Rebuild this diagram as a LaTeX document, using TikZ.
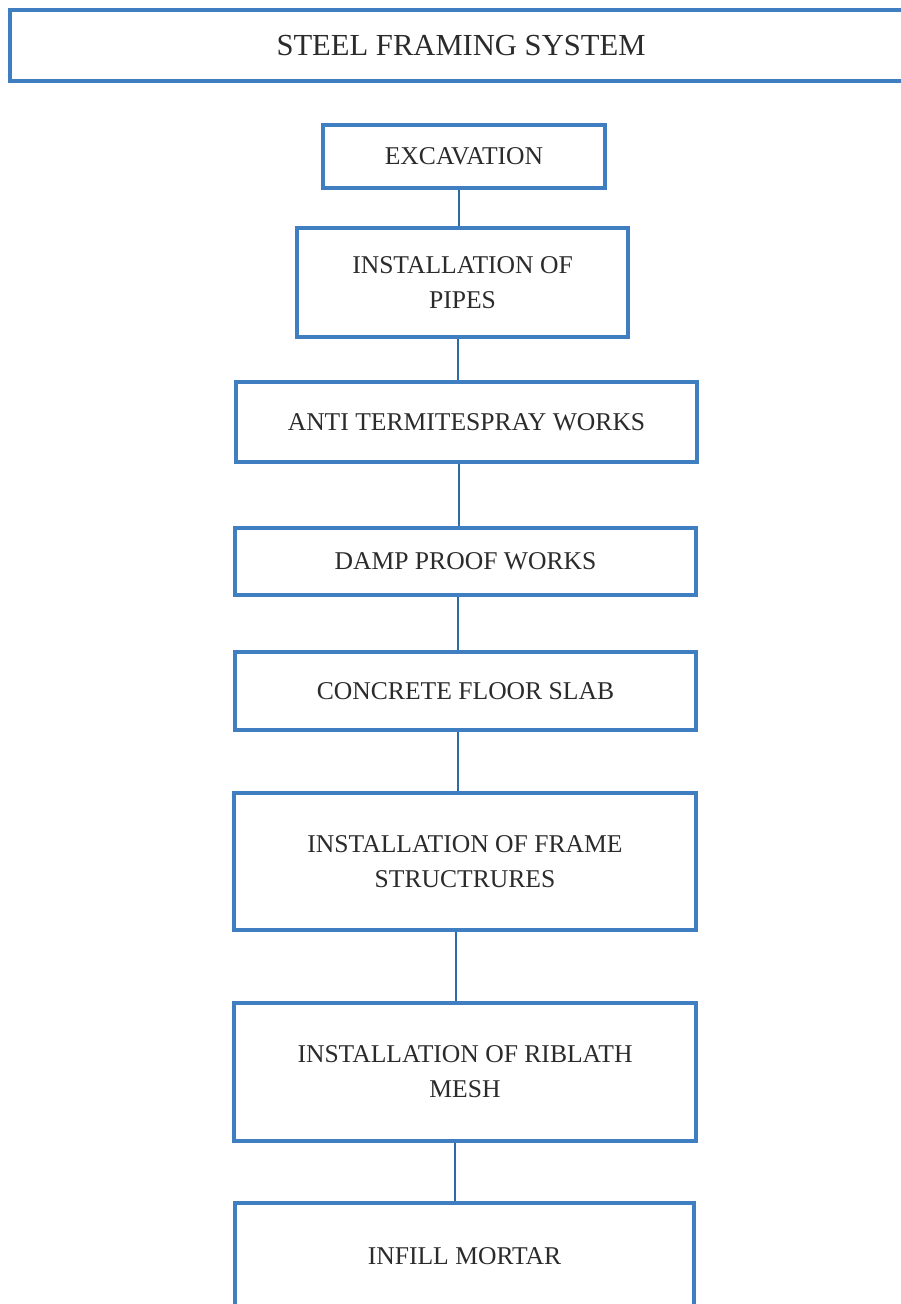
\documentclass[tikz,border=0pt]{standalone}
\usepackage{fontspec}
\setmainfont{Liberation Serif}
\definecolor{FrameBlue}{HTML}{3F7EC1}
\definecolor{LinkBlue}{HTML}{2C6BA6}
\definecolor{InkGrey}{HTML}{2B2B2B}

\begin{document}
\begin{tikzpicture}[x=0.5pt,y=-0.5pt,
    box/.style={draw=FrameBlue,line width=2pt,fill=white,text=InkGrey,align=center,inner sep=0pt,font=\fontsize{12.8}{17.5}\selectfont},
    link/.style={draw=LinkBlue,line width=1pt}]
    \useasboundingbox (0,0) rectangle (900,1304);
    \node[box,minimum width=451pt,minimum height=35.5pt,font=\fontsize{15.3}{18}\selectfont] (title) at (461,45.5) {STEEL FRAMING SYSTEM};
    \node[box,minimum width=141pt,minimum height=31.5pt] (excav) at (464,156.5) {EXCAVATION};
    \node[box,minimum width=165.5pt,minimum height=54.5pt] (pipes) at (462.5,282.5) {INSTALLATION OF\\PIPES};
    \node[box,minimum width=230.5pt,minimum height=40pt] (termite) at (466.5,422) {ANTI TERMITESPRAY WORKS};
    \node[box,minimum width=230.5pt,minimum height=33.5pt] (damp) at (465.5,561.5) {DAMP PROOF WORKS};
    \node[box,minimum width=230.5pt,minimum height=39pt] (slab) at (465.5,691) {CONCRETE FLOOR SLAB};
    \node[box,minimum width=231pt,minimum height=68.5pt] (frame) at (465,861.5) {INSTALLATION OF FRAME\\STRUCTRURES};
    \node[box,minimum width=231pt,minimum height=69pt] (riblath) at (465,1072) {INSTALLATION OF RIBLATH\\MESH};
    \node[box,minimum width=229.5pt,minimum height=53.5pt] (infill) at (464.5,1256.5) {INFILL MORTAR};
    \draw[link] ([xshift=-2.5pt]excav.south) -- ([xshift=-2.5pt]excav.south |- pipes.north);
    \draw[link] ([xshift=-2.5pt]pipes.south) -- ([xshift=-2.5pt]pipes.south |- termite.north);
    \draw[link] ([xshift=-4pt]termite.south) -- ([xshift=-4pt]termite.south |- damp.north);
    \draw[link] ([xshift=-4pt]damp.south) -- ([xshift=-4pt]damp.south |- slab.north);
    \draw[link] ([xshift=-4pt]slab.south) -- ([xshift=-4pt]slab.south |- frame.north);
    \draw[link] ([xshift=-4.5pt]frame.south) -- ([xshift=-4.5pt]frame.south |- riblath.north);
    \draw[link] ([xshift=-5pt]riblath.south) -- ([xshift=-5pt]riblath.south |- infill.north);
\end{tikzpicture}
\end{document}
